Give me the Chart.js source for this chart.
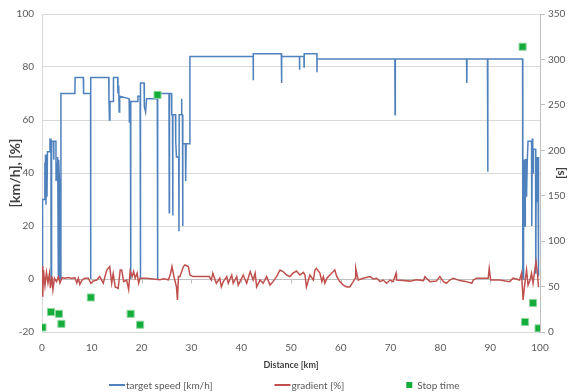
<!DOCTYPE html>
<html>
<head>
<meta charset="utf-8">
<script src="https://cdn.jsdelivr.net/npm/chart.js@4"></script>
<style>
  body { margin: 0; background: #fff; }
  canvas { display: block; }
</style>
</head>
<body>
<canvas id="speedChart" width="569" height="392"></canvas>
<script>
// target speed profile (step shape), km vs km/h
const speedKm = [0, 0.1, 0.13, 0.5, 0.55, 0.6, 0.7, 0.8, 0.9, 1.0, 1.1, 1.5, 1.6, 1.7, 1.8, 1.82, 1.9, 1.95,
  2.3, 2.35, 2.4, 2.8, 2.82, 3.0, 3.05, 3.1, 3.2, 3.28, 3.35, 3.5, 3.6, 3.75, 3.8, 6.6, 6.65, 8.3, 8.35,
  9.75, 9.77, 9.8, 13.4, 13.45, 13.55, 13.65, 14.3, 14.35, 15.2, 15.25, 15.4, 15.5, 15.6, 17.5, 17.55,
  17.75, 17.8, 17.85, 19.2, 19.25, 19.7, 19.75, 19.78, 19.8, 20.5, 20.55, 20.8, 21.0, 23.15, 23.2, 23.25,
  25.5, 25.55, 25.6, 26.0, 26.05, 26.2, 26.25, 26.3, 26.8, 26.85, 27.0, 27.45, 27.5, 27.55, 27.95, 28.0,
  28.1, 28.2, 28.25, 28.3, 28.8, 28.85, 28.95, 29.65, 29.7, 42.4, 42.42, 42.45, 48.05, 48.1, 48.15,
  51.7, 51.72, 51.75, 52.6, 52.62, 52.65, 55.2, 55.22, 55.25, 70.85, 70.9, 70.95, 85.25, 85.3, 85.35,
  89.45, 89.5, 89.55, 96.5, 96.55, 96.62, 96.65, 96.75, 96.8, 96.9, 96.95, 97.0, 97.05, 97.25, 97.3,
  97.45, 97.6, 98.3, 98.35, 98.45, 98.55, 98.6, 98.65, 99.1, 99.15, 99.25, 99.35, 99.45, 99.55, 99.6, 99.7];
const speedVal = [0, 0, 30, 30, 44, 30, 47, 28, 46, 31, 48, 48, 53, 50, 53, 0, 0, 52,
  52, 45, 52, 52, 37, 37, 44, 37, 46, 0, 45, 37, 0, 0, 70, 70, 76, 76, 70,
  70, 0, 76, 76, 67, 60, 67, 67, 76, 76, 70, 73, 63, 69, 68, 59,
  67, 0, 67, 67, 69, 69, 74, 0, 74, 74, 65, 63, 68, 68, 0, 70,
  70, 25, 70, 70, 62, 62, 24, 62, 62, 52, 46, 46, 18, 62, 62, 68,
  62, 62, 20, 51, 51, 37, 51, 51, 84, 84, 75, 85, 85, 74, 84,
  84, 79, 84, 84, 80, 85, 85, 78, 83, 83, 62, 83, 83, 74, 83,
  83, 40.5, 83, 83, 0, 0, 45, 37, 45, 37, 45, 20, 45, 45, 31,
  45, 52, 52, 20, 53, 49, 40, 49, 49, 2, 46, 29, 46, 31, 46, 1];

// road gradient, km vs %
const gradKm = [0.1, 0.15, 0.3, 0.6, 0.9, 1.2, 1.5, 1.7, 2.0, 2.2, 2.5, 2.9, 3.3, 3.6, 4.0, 4.6, 5.3, 6.0,
  6.6, 7.0, 7.3, 7.6, 8.0, 8.6, 9.3, 9.8, 10.3, 11.0, 11.6, 12.3, 13.0, 13.6, 14.0, 14.3, 14.7, 15.3,
  15.7, 16.0, 16.4, 17.0, 17.4, 17.7, 18.1, 18.4, 18.7, 19.1, 19.4, 19.7, 21.0, 22.3, 23.7, 24.4, 25.4,
  25.8, 26.1, 26.5, 27.0, 27.2, 27.4, 27.7, 28.4, 28.7, 29.4, 29.7, 30.3, 33.6, 34.0, 34.3, 35.0, 35.7,
  36.0, 36.4, 37.1, 37.4, 38.1, 38.4, 39.1, 39.4, 40.1, 40.4, 41.1, 41.8, 42.4, 42.8, 43.1, 43.8, 44.4,
  45.1, 45.8, 46.4, 47.1, 47.8, 48.4, 49.1, 49.8, 50.4, 51.1, 51.8, 52.5, 52.8, 53.1, 53.5, 53.8, 54.5,
  54.8, 55.1, 55.8, 56.2, 56.5, 56.8, 57.2, 57.8, 58.5, 58.8, 59.2, 59.8, 60.5, 61.2, 61.8, 62.5, 62.9,
  63.0, 63.5, 64.5, 65.9, 66.5, 67.2, 67.9, 68.5, 69.2, 69.9, 70.5, 71.1, 71.2, 72.5, 73.9, 75.2, 76.6,
  76.9, 77.2, 77.9, 79.2, 79.9, 80.6, 81.2, 81.9, 82.6, 83.9, 85.3, 86.3, 86.6, 87.3, 88.6, 89.6, 89.8,
  90.1, 91.9, 93.9, 94.6, 95.9, 96.3, 96.6, 97.0, 97.3, 97.6, 98.0, 98.3, 98.6, 99.0, 99.2, 99.5, 99.7];
const gradVal = [4.9, -6.7, 3.4, -2.5, 2.5, -1.5, 2.0, -3.5, 1.0, -4.0, 0.3, -1.0, 0.8, -1.5, 0.5, 0.3, 0.6, 0.2,
  0.5, -1.5, 0.3, -2.0, -0.5, 0.3, 0.3, -1.6, -0.8, -0.4, 0.9, -1.6, 3.4, 4.7, -1.6, 2.0, -3.0, -3.5,
  3.4, 3.4, -1.0, -0.4, -4.0, 3.0, 0.9, 2.8, 0.3, 2.2, -1.6, 0.3, 0.3, 0.0, -0.3, 0.1, -0.3,
  2.0, 4.7, 0.9, -3.0, -7.9, 0.9, 0.9, 4.7, 5.3, 4.7, 1.5, 0.9, 0.9, -0.4, 2.2, -1.6, 0.3,
  -3.0, -1.0, 0.9, -1.6, 1.5, -1.6, 0.9, -2.3, 0.3, 1.5, -1.6, 2.8, -0.4, 2.2, -3.0, -0.4, -1.6,
  0.9, -2.3, -1.0, 0.9, 3.4, 2.8, 1.5, 0.9, 2.2, 3.0, 1.5, 2.5, 1.5, -3.0, -0.4, 1.5, -0.4,
  3.4, 4.0, 2.2, -1.0, 0.9, -1.6, 0.3, 1.5, 2.8, 3.4, 0.9, -1.0, -2.3, -3.0, -3.0, -1.0, 0.3,
  4.0, -0.4, 0.3, 0.9, 0.0, 0.3, -1.0, -0.4, -1.6, -0.4, -1.0, 2.2, -0.4, -0.6, -0.8, -0.3, -0.6,
  0.9, 0.3, -1.0, -0.8, 0.9, -1.0, -1.6, -0.4, 0.3, -0.6, -1.0, -1.6, -0.4, 0.3, 0.3, 0.3, 4.0,
  -0.4, -0.4, -1.0, 0.3, -0.4, 2.2, -7.9, -1.0, 3.4, -2.3, -0.4, 2.2, -1.6, 4.0, 6.5, 2.0, -3.0];

// stop times, km vs seconds (right axis)
const stopKm = [0.1, 1.8, 3.4, 3.9, 9.8, 17.8, 19.7, 23.2, 96.5, 97.0, 98.6, 99.7];
const stopSec = [5, 22, 20, 9, 38, 20, 8, 261, 314, 11, 32, 4];

const FONT = "Lato, 'Liberation Sans', sans-serif";
const TEXT = "#595959";
const BLUE = "#4f81bd";
const RED = "#c0504d";
const GREEN = "#14ad3c";

function toXY(xs, ys) {
  return xs.map((x, i) => ({ x: x, y: ys[i] }));
}

// horizontal category axis crossing at 0 with small tick marks
const zeroAxis = {
  id: "zeroAxis",
  beforeDatasetsDraw(chart) {
    const { ctx, chartArea, scales } = chart;
    const y0 = Math.round(scales.y.getPixelForValue(0)) + 0.5;
    ctx.save();
    ctx.strokeStyle = "#bfbfbf";
    ctx.lineWidth = 1;
    ctx.beginPath();
    ctx.moveTo(chartArea.left, y0);
    ctx.lineTo(chartArea.right, y0);
    scales.x.ticks.forEach((t) => {
      const x = Math.round(scales.x.getPixelForValue(t.value)) + 0.5;
      ctx.moveTo(x, y0);
      ctx.lineTo(x, y0 + 4);
    });
    ctx.stroke();
    ctx.restore();
  },
};

// excel-like legend under the axis title
const bottomLegend = {
  id: "bottomLegend",
  afterDraw(chart) {
    const ctx = chart.ctx;
    const sets = chart.data.datasets;
    ctx.save();
    ctx.font = "10px " + FONT;
    ctx.textBaseline = "middle";
    const itemGap = 62;
    const parts = sets.map((d) => {
      const sym = d.type === "scatter" ? 6 : 16;
      const gap = d.type === "scatter" ? 5 : 1;
      return { d, sym, gap, w: sym + gap + ctx.measureText(d.label).width };
    });
    const total = parts.reduce((a, p) => a + p.w, 0) + itemGap * (parts.length - 1);
    let x = Math.round((chart.width - total) / 2);
    const y = chart.height - 7;
    parts.forEach((p) => {
      if (p.d.type === "scatter") {
        ctx.fillStyle = p.d.backgroundColor;
        ctx.fillRect(x, y - 3, 6, 6);
      } else {
        ctx.strokeStyle = p.d.borderColor;
        ctx.lineWidth = 2;
        ctx.beginPath();
        ctx.moveTo(x, y);
        ctx.lineTo(x + p.sym, y);
        ctx.stroke();
      }
      ctx.fillStyle = TEXT;
      ctx.fillText(p.d.label, x + p.sym + p.gap, y + 1);
      x += p.w + itemGap;
    });
    ctx.restore();
  },
};

const ctx = document.getElementById("speedChart").getContext("2d");

new Chart(ctx, {
  type: "line",
  data: {
    datasets: [
      {
        label: "target speed [km/h]",
        data: toXY(speedKm, speedVal),
        borderColor: BLUE,
        borderWidth: 1.5,
        pointRadius: 0,
        tension: 0,
        yAxisID: "y",
        order: 3,
      },
      {
        label: "gradient [%]",
        data: toXY(gradKm, gradVal),
        borderColor: RED,
        borderWidth: 1.5,
        pointRadius: 0,
        tension: 0,
        yAxisID: "y",
        order: 2,
      },
      {
        label: "Stop time",
        type: "scatter",
        data: toXY(stopKm, stopSec),
        backgroundColor: GREEN,
        borderColor: "#8fd69c",
        borderWidth: 1,
        pointStyle: "rect",
        pointRadius: 5,
        showLine: false,
        yAxisID: "y1",
        order: 1,
      },
    ],
  },
  options: {
    responsive: false,
    animation: false,
    layout: { padding: { top: 14, right: 0, bottom: 22, left: 0 } },
    scales: {
      x: {
        type: "linear",
        min: 0,
        max: 100,
        ticks: { stepSize: 10, color: TEXT, font: { family: FONT, size: 10 }, padding: 10, maxRotation: 0 },
        grid: { display: false, drawTicks: false },
        border: { display: false },
        title: {
          display: true,
          text: "Distance [km]",
          color: "#404040",
          font: { family: FONT, size: 9, weight: "bold" },
          padding: { top: 0, bottom: 0 },
        },
        afterFit: (s) => { s.height = 38; },
      },
      y: {
        position: "left",
        min: -20,
        max: 100,
        ticks: { stepSize: 20, color: TEXT, font: { family: FONT, size: 10 }, padding: 8 },
        grid: { color: "#d9d9d9", drawTicks: false },
        border: { display: true, color: "#d9d9d9" },
        title: {
          display: true,
          text: "[km/h], [%]",
          color: "#404040",
          font: { family: FONT, size: 14, weight: "bold" },
          padding: { top: 7, bottom: 0 },
        },
        afterFit: (s) => { s.width = 42; },
      },
      y1: {
        position: "right",
        min: 0,
        max: 350,
        ticks: { stepSize: 50, color: TEXT, font: { family: FONT, size: 10 }, padding: 3 },
        grid: { drawOnChartArea: false, color: "#bfbfbf", tickLength: 5 },
        border: { display: true, color: "#bfbfbf" },
        title: {
          display: true,
          text: "[s]",
          color: "#404040",
          font: { family: FONT, size: 12, weight: "bold" },
          padding: { top: 0, bottom: 0 },
        },
        afterFit: (s) => { s.width = 29; },
      },
    },
    plugins: {
      legend: { display: false },
      tooltip: { enabled: false },
    },
  },
  plugins: [zeroAxis, bottomLegend],
});
</script>
</body>
</html>
